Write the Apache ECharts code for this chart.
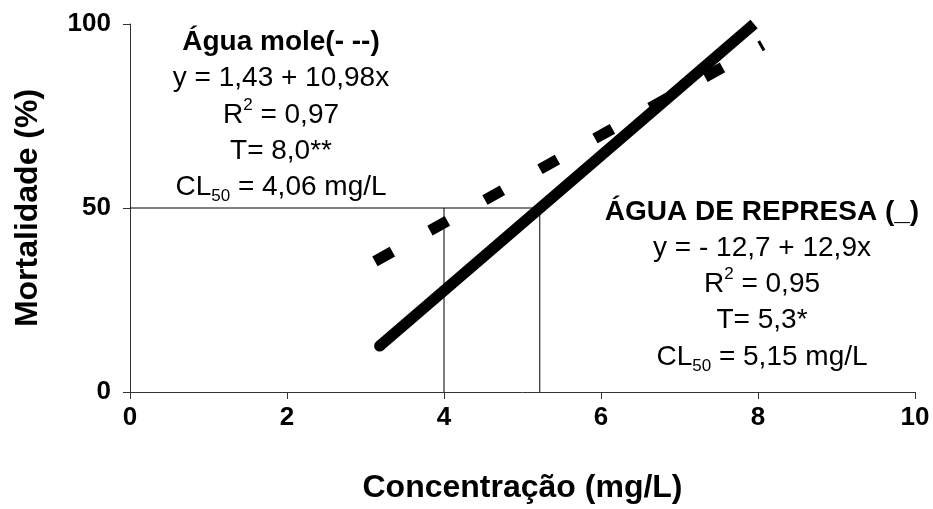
<!DOCTYPE html>
<html>
<head>
<meta charset="utf-8">
<script src="https://cdn.jsdelivr.net/npm/echarts@6/dist/echarts.min.js"></script>
<style>
html,body{margin:0;padding:0;background:#fff;}
#chart{width:933px;height:509px;}
</style>
</head>
<body>
<div id="chart"></div>
<script>
// ---- data ----
const xTicks = [0, 2, 4, 6, 8, 10];
const yTicks = [0, 50, 100];
// Água mole (dashed) fitted line end points
const moleX = [3.12, 8.06];
const moleY = [35.5, 94.3];
// Água de represa (solid) fitted line end points
const represaX = [3.18, 7.95];
const represaY = [12.5, 100];
// CL50 guide lines
const guideHX = [0, 5.22];
const guideHY = [50, 50];
const guide4X = [4, 4];
const guide4Y = [0, 50];
const guide5X = [5.22, 5.22];
const guide5Y = [0, 50];
// annotation texts
const moleTitle = 'Água mole(- --)';
const moleEq = 'y = 1,43 + 10,98x';
const moleR2 = '0,97';
const moleT = 'T= 8,0**';
const moleCL = '4,06 mg/L';
const repTitle = 'ÁGUA DE REPRESA (_)';
const repEq = 'y = - 12,7 + 12,9x';
const repR2 = '0,95';
const repT = 'T= 5,3*';
const repCL = '5,15 mg/L';
const xName = 'Concentração (mg/L)';
const yName = 'Mortalidade (%)';

const FF = '"Liberation Sans", Arial, Helvetica, sans-serif';
const zip = (xs, ys) => xs.map((x, i) => [x, ys[i]]);

const richStyles = {
  n: { fontSize: 28, fontFamily: FF, lineHeight: 36, fill: '#000', color: '#000' },
  sup: { fontSize: 17, fontFamily: FF, lineHeight: 12, verticalAlign: 'top', fill: '#000', color: '#000' },
  sub: { fontSize: 17, fontFamily: FF, lineHeight: 18, verticalAlign: 'bottom', fill: '#000', color: '#000' }
};

function txt(x, y, text, bold) {
  return {
    type: 'text', x: x, y: y, silent: true,
    style: {
      text: text, fontSize: 28, fontFamily: FF, fontWeight: bold ? 'bold' : 'normal',
      fill: '#000', align: 'center', verticalAlign: 'middle'
    }
  };
}
function richTxt(x, y, text) {
  return {
    type: 'text', x: x, y: y, silent: true,
    style: {
      text: text, rich: richStyles, fontSize: 28, fontFamily: FF,
      fill: '#000', align: 'center', verticalAlign: 'middle'
    }
  };
}

const LX = 281, RX = 762;
const graphics = [
  txt(LX, 42, moleTitle, true),
  txt(LX, 78, moleEq, false),
  richTxt(LX, 115, '{n|R}{sup|2}{n| = ' + moleR2 + '}'),
  txt(LX, 151, moleT, false),
  richTxt(LX, 187, '{n|CL}{sub|50}{n| = ' + moleCL + '}'),
  txt(RX, 212, repTitle, true),
  txt(RX, 248, repEq, false),
  richTxt(RX, 284, '{n|R}{sup|2}{n| = ' + repR2 + '}'),
  txt(RX, 320, repT, false),
  richTxt(RX, 357, '{n|CL}{sub|50}{n| = ' + repCL + '}')
];

const guideStyle = { color: '#000', width: 1 };
function guide(xs, ys) {
  return {
    type: 'line', data: zip(xs, ys), symbol: 'none', silent: true,
    lineStyle: guideStyle, z: 1, animation: false
  };
}

const repData = zip(represaX, represaY).map((p, i) =>
  i === 0 ? { value: p } : { value: p, symbol: 'none' });

const axisLabelStyle = { fontSize: 26, fontWeight: 'bold', fontFamily: FF, color: '#000' };
const axisNameStyle = { fontSize: 32, fontWeight: 'bold', fontFamily: FF, color: '#000' };

const option = {
  animation: false,
  backgroundColor: '#fff',
  grid: { left: 130, right: 18, top: 24, bottom: 110 },
  xAxis: {
    type: 'value', min: xTicks[0], max: xTicks[xTicks.length - 1], interval: xTicks[1] - xTicks[0],
    axisLine: { show: true, lineStyle: { color: '#333', width: 1 } },
    axisTick: { show: true, inside: false, length: 7, lineStyle: { color: '#333' } },
    axisLabel: Object.assign({ margin: 13 }, axisLabelStyle),
    splitLine: { show: false },
    name: xName, nameLocation: 'middle', nameGap: 80,
    nameTextStyle: axisNameStyle
  },
  yAxis: {
    type: 'value', min: yTicks[0], max: yTicks[yTicks.length - 1], interval: yTicks[1] - yTicks[0],
    axisLine: { show: true, lineStyle: { color: '#333', width: 1 } },
    axisTick: { show: true, inside: false, length: 7, lineStyle: { color: '#333' } },
    axisLabel: Object.assign({ margin: 19 }, axisLabelStyle),
    splitLine: { show: false },
    name: yName, nameLocation: 'middle', nameGap: 86, nameRotate: 90,
    nameTextStyle: axisNameStyle
  },
  graphic: graphics,
  series: [
    guide(guideHX, guideHY),
    guide(guide4X, guide4Y),
    guide(guide5X, guide5Y),
    {
      type: 'line', name: 'Água mole', data: zip(moleX, moleY), symbol: 'none',
      lineStyle: { color: '#000', width: 11, type: [20, 43], cap: 'butt' }, z: 3
    },
    {
      type: 'line', name: 'Água de represa', data: repData,
      showSymbol: true, symbol: 'circle', symbolSize: 11,
      itemStyle: { color: '#000', borderWidth: 0 },
      lineStyle: { color: '#000', width: 11, cap: 'butt' }, z: 4
    }
  ]
};

const chart = echarts.init(document.getElementById('chart'), null, { renderer: 'canvas' });
chart.setOption(option);
</script>
</body>
</html>
